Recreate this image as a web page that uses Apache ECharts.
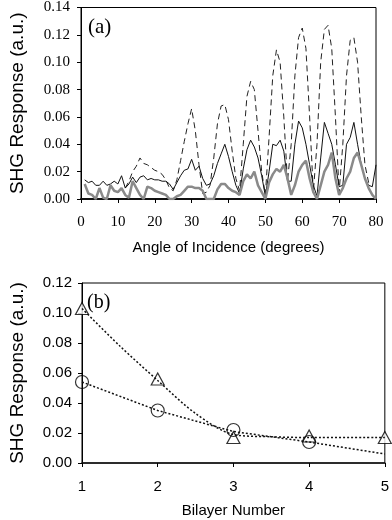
<!DOCTYPE html>
<html><head><meta charset="utf-8">
<script src="https://cdn.jsdelivr.net/npm/echarts@6/dist/echarts.min.js"></script>
<style>html,body{margin:0;padding:0;background:#fff}#c{width:392px;height:520px}</style>
</head><body><div id="c"></div>
<script>
// ---- Panel (a): SHG response vs angle of incidence ----
const angles = [1,2,3,4,5,6,7,8,9,10,11,12,13,14,15,16,17,18,19,20,21,22,23,24,25,26,27,28,29,30,31,32,33,34,35,36,37,38,39,40,41,42,43,44,45,46,47,48,49,50,51,52,53,54,55,56,57,58,59,60,61,62,63,64,65,66,67,68,69,70,71,72,73,74,75,76,77,78,79,80];
const solidVals = [0.014,0.012,0.013,0.010,0.010,0.013,0.010,0.011,0.013,0.011,0.017,0.008,0.011,0.016,0.012,0.016,0.017,0.014,0.015,0.014,0.014,0.013,0.013,0.011,0.007,0.012,0.017,0.021,0.022,0.029,0.021,0.024,0.015,0.010,0.011,0.017,0.026,0.033,0.040,0.031,0.020,0.010,0.004,0.022,0.036,0.043,0.038,0.030,0.017,0.002,0.020,0.040,0.039,0.043,0.035,0.013,0.013,0.040,0.057,0.052,0.040,0.025,0.010,0.002,0.030,0.056,0.048,0.040,0.025,0.009,0.010,0.040,0.045,0.056,0.040,0.025,0.015,0.010,0.009,0.025];
const dashedVals = [null,null,null,null,null,null,null,null,null,null,null,0.008,0.013,0.020,0.024,0.030,0.026,0.025,0.023,0.021,0.020,0.018,0.014,0.008,0.006,0.014,0.028,0.042,0.055,0.066,0.050,0.025,0.004,0.005,0.010,0.030,0.055,0.068,0.069,0.058,0.035,0.015,0.006,0.040,0.075,0.086,0.080,0.050,0.020,0.003,0.045,0.090,0.109,0.100,0.060,0.013,0.040,0.090,0.118,0.125,0.110,0.060,0.005,0.040,0.100,0.124,0.127,0.110,0.060,0.005,0.040,0.090,0.116,0.118,0.100,0.060,0.025,0.012,0.010,null];
const grayVals = [0.011,0.004,0.003,0.000,0.008,0.001,0.000,0.010,0.006,0.005,0.008,0.003,0.001,0.013,0.008,0.003,0.000,0.009,0.008,0.006,0.005,0.004,0.003,0.000,0.000,0.002,0.003,0.006,0.009,0.009,0.008,0.008,0.006,0.000,0.000,0.000,0.007,0.011,0.011,0.008,0.006,0.005,0.003,0.013,0.018,0.015,0.020,0.010,0.005,0.000,0.012,0.018,0.022,0.020,0.025,0.015,0.003,0.010,0.020,0.025,0.028,0.015,0.005,0.000,0.010,0.020,0.025,0.034,0.015,0.003,0.008,0.015,0.020,0.030,0.034,0.025,0.015,0.008,0.003,0.000];
const angleTicks = [0,10,20,30,40,50,60,70,80];
const respTicksA = [0.00,0.02,0.04,0.06,0.08,0.10,0.12,0.14];

// ---- Panel (b): SHG response vs bilayer number ----
const bilayers = [1,2,3,4,5];
const triangleVals = [0.103,0.056,0.017,0.018,0.017];
const circleVals = [0.054,0.035,0.022,0.014,null];
const triFitX = [1,1.5,2,2.5,3,3.5,4,5];
const triFitY = [0.103,0.078,0.055,0.033,0.019,0.0175,0.017,0.017];
const circFitX = [1,2,3,4,5];
const circFitY = [0.054,0.035,0.021,0.014,0.006];
const respTicksB = [0.00,0.02,0.04,0.06,0.08,0.10,0.12];

const pair = (xs, ys) => xs.map((x, i) => [x, ys[i]]);
const serif = 'Liberation Serif';
const sans = 'Liberation Sans';

const chart = echarts.init(document.getElementById('c'), null, {renderer: 'canvas'});
chart.setOption({
  animation: false,
  backgroundColor: '#fff',
  grid: [
    {left: 72, right: 16, top: 7, height: 192, show: true, borderColor: '#000', borderWidth: 1},
    {left: 73, right: 7, top: 283, height: 180, show: true, borderColor: '#000', borderWidth: 1}
  ],
  xAxis: [
    {gridIndex: 0, type: 'value', min: angleTicks[0], max: angleTicks[angleTicks.length-1], interval: 10,
     name: 'Angle of Incidence (degrees)', nameLocation: 'middle', nameGap: 41,
     nameTextStyle: {fontFamily: sans, fontSize: 15, color: '#000'},
     axisLine: {onZero: false, lineStyle: {color: '#111', width: 2}},
     axisTick: {length: 4, inside: false, lineStyle: {color: '#000'}},
     axisLabel: {fontFamily: serif, fontSize: 15, color: '#000', margin: 16},
     splitLine: {show: false}},
    {gridIndex: 1, type: 'value', min: 1, max: 5, interval: 1,
     name: 'Bilayer Number', nameLocation: 'middle', nameGap: 40,
     nameTextStyle: {fontFamily: sans, fontSize: 15, color: '#000'},
     axisLine: {onZero: false, lineStyle: {color: '#111', width: 1.5}},
     axisTick: {length: 4, lineStyle: {color: '#000'}},
     axisLabel: {fontFamily: sans, fontSize: 15, color: '#000', margin: 16},
     splitLine: {show: false}}
  ],
  yAxis: [
    {gridIndex: 0, type: 'value', min: 0, max: 0.14, interval: 0.02,
     name: 'SHG Response (a.u.)', nameLocation: 'middle', nameGap: 54, nameRotate: 90,
     nameTextStyle: {fontFamily: sans, fontSize: 19, color: '#000'},
     axisLine: {show: true, onZero: false, lineStyle: {color: '#000', width: 1}},
     axisTick: {show: true, length: 4, lineStyle: {color: '#000'}},
     axisLabel: {fontFamily: serif, fontSize: 15, color: '#000', margin: 11, formatter: v => v.toFixed(2)},
     splitLine: {show: false}},
    {gridIndex: 1, type: 'value', min: 0, max: 0.12, interval: 0.02,
     name: 'SHG Response (a.u.)', nameLocation: 'middle', nameGap: 55, nameRotate: 90,
     nameTextStyle: {fontFamily: sans, fontSize: 19, color: '#000'},
     axisLine: {show: true, onZero: false, lineStyle: {color: '#000', width: 1}},
     axisTick: {show: true, length: 4, lineStyle: {color: '#000'}},
     axisLabel: {fontFamily: sans, fontSize: 15, color: '#000', margin: 10, formatter: v => v.toFixed(2)},
     splitLine: {show: false}}
  ],
  series: [
    {type: 'line', xAxisIndex: 0, yAxisIndex: 0, data: pair(angles, dashedVals), showSymbol: false, connectNulls: false,
     lineStyle: {color: '#222', width: 1, type: [6, 4]}},
    {type: 'line', xAxisIndex: 0, yAxisIndex: 0, data: pair(angles, solidVals), showSymbol: false,
     lineStyle: {color: '#111', width: 1}},
    {type: 'line', xAxisIndex: 0, yAxisIndex: 0, data: pair(angles, grayVals), showSymbol: false,
     lineStyle: {color: '#8a8a8a', width: 2.5}},
    {type: 'line', xAxisIndex: 1, yAxisIndex: 1, data: pair(triFitX, triFitY), showSymbol: false, smooth: 0.3,
     lineStyle: {color: '#111', width: 1.5, type: [2, 2]}},
    {type: 'line', xAxisIndex: 1, yAxisIndex: 1, data: pair(circFitX, circFitY), showSymbol: false,
     lineStyle: {color: '#111', width: 1.5, type: [2, 2]}},
    {type: 'scatter', xAxisIndex: 1, yAxisIndex: 1, data: pair(bilayers, triangleVals).filter(d => d[1] != null),
     symbol: 'triangle', symbolSize: [13, 12], clip: false,
     itemStyle: {color: '#fff', borderColor: '#000', borderWidth: 1.2}},
    {type: 'scatter', xAxisIndex: 1, yAxisIndex: 1, data: pair(bilayers, circleVals).filter(d => d[1] != null),
     symbol: 'circle', symbolSize: 13, clip: false,
     itemStyle: {color: 'rgba(255,255,255,0)', borderColor: '#000', borderWidth: 1.2}}
  ],
  graphic: [
    {type: 'text', left: 88, top: 17, style: {text: '(a)', font: '21px "Liberation Serif"', fill: '#000'}},
    {type: 'text', left: 87, top: 293, style: {text: '(b)', font: '20px "Liberation Serif"', fill: '#000'}}
  ]
});
</script>
</body></html>
